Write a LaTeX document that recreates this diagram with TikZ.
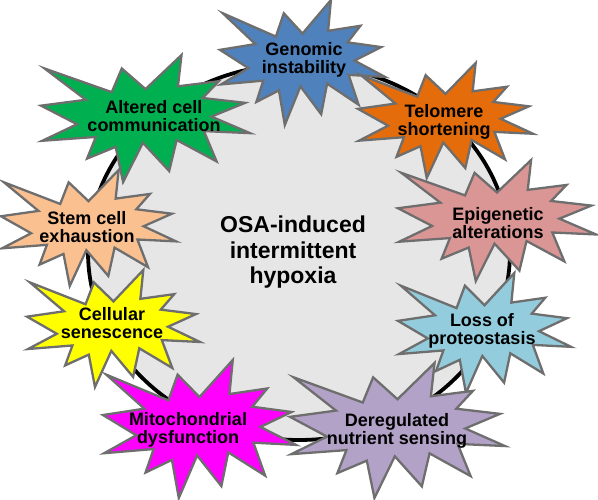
\documentclass[tikz,border=0pt]{standalone}
\usepackage{fontspec}
\setmainfont{Liberation Sans}
\usetikzlibrary{shapes.geometric}
\definecolor{cgen}{HTML}{4F81BD}
\definecolor{ctel}{HTML}{E46C0A}
\definecolor{cepi}{HTML}{D99694}
\definecolor{closs}{HTML}{93CDDD}
\definecolor{cdere}{HTML}{B3A2C7}
\definecolor{cmito}{HTML}{FF00FF}
\definecolor{ccell}{HTML}{FFFF00}
\definecolor{cstem}{HTML}{FAC090}
\definecolor{calt}{HTML}{00B050}
\definecolor{cring}{HTML}{E6E6E6}
\definecolor{cedge}{HTML}{6E6E6E}
% irregular explosion outline, in a 216 x 216 box
\newcommand\mksealpath{(108,58) -- (145.22,0) -- (141.55,53.25) -- (183.80,44.57) -- (167.02,73.15) -- (210.97,81.37) -- (176.07,104.75) -- (216,132.90) -- (168.37,129.42) -- (181.45,180.95) -- (140.20,144.57) -- (132.47,197.37) -- (105.32,149.35) -- (84.85,216) -- (77.15,156.27) -- (47.62,176.17) -- (56.67,139.37) -- (1.35,145.87) -- (37.22,117.75) -- (0,86.15) -- (46.27,76.17) -- (3.70,22.95) -- (73.12,63.20) -- (83.52,22.95) -- cycle}
% #1 name, #2 x0, #3 y0, #4 w, #5 h, #6 colour, #7 text x, #8 text y, #9 text
\newcommand\mkseal[9]{%
  \begin{scope}[shift={(#2,#3)}, xscale={#4/216}, yscale={#5/216}]
    \path[sealbody, fill=#6] \mksealpath;
  \end{scope}
  \node[seallabel] (#1) at (#7,#8) {#9};}
\begin{document}
\begin{tikzpicture}[x=1pt,y=-1pt,
  sealbody/.style={draw=cedge, line width=2.3pt, line join=miter, miter limit=20},
  seallabel/.style={align=center, inner sep=0pt,
    font=\fontsize{18}{18}\selectfont\bfseries, text=black},
  hub/.style={ellipse, draw=black, line width=3.8pt, fill=cring},
  hubtext/.style={align=center, inner sep=0pt, font=\fontsize{23}{25.5}\selectfont\bfseries}]
\useasboundingbox (0,0) rectangle (598,500);
\node[hub, minimum width=422pt, minimum height=376pt] (hub) at (299,252) {};
\node[hubtext] (hubtext) at (293,252.5) {OSA-induced\\intermittent\\hypoxia};
\mkseal{gen}{220}{0}{165}{125}{cgen}{304}{60}{Genomic\\instability}
\mkseal{tel}{358}{63}{175}{115}{ctel}{444}{122}{Telomere\\shortening}
\mkseal{epi}{398}{160}{198}{121}{cepi}{498}{223}{Epigenetic\\alterations}
\mkseal{loss}{398}{273}{173}{120}{closs}{482}{331}{Loss of\\proteostasis}
\mkseal{dere}{290}{363}{215}{135}{cdere}{397}{431}{Deregulated\\nutrient sensing}
\mkseal{mito}{103}{360}{193}{138}{cmito}{188}{430}{Mitochondrial\\dysfunction}
\mkseal{cell}{27}{270}{173}{117}{ccell}{112}{323}{Cellular\\senescence}
\mkseal{stem}{1}{170}{175}{116}{cstem}{87}{227}{Stem cell\\exhaustion}
\mkseal{alt}{41}{55}{209}{127}{calt}{154}{116}{Altered cell\\communication}
\end{tikzpicture}
\end{document}
